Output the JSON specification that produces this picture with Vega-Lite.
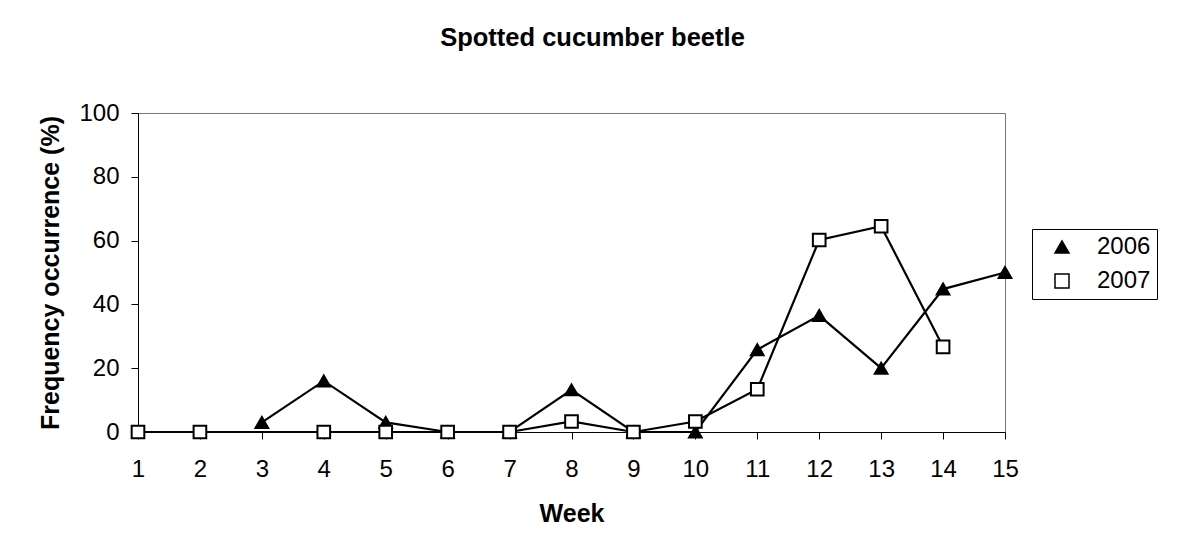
{
  "$schema": "https://vega.github.io/schema/vega-lite/v6.json",
  "width": 867,
  "height": 319,
  "autosize": {"type": "none"},
  "padding": {"left": 138, "top": 113, "right": 178, "bottom": 126},
  "background": "white",
  "config": {
    "font": "Liberation Sans",
    "view": {"stroke": "#777777", "strokeWidth": 1},
    "axis": {"grid": false, "domainColor": "black", "tickColor": "black", "labelColor": "black", "titleColor": "black", "domainWidth": 1, "tickWidth": 1}
  },
  "title": {"text": "Spotted cucumber beetle", "fontSize": 25.5, "fontWeight": "bold", "color": "black", "anchor": "middle", "dx": 21, "baseline": "alphabetic", "offset": 30},
  "data": {
    "values": [
      {"Week": 3, "Freq": 3, "Year": "2006"},
      {"Week": 4, "Freq": 16, "Year": "2006"},
      {"Week": 5, "Freq": 3, "Year": "2006"},
      {"Week": 6, "Freq": 0, "Year": "2006"},
      {"Week": 7, "Freq": 0, "Year": "2006"},
      {"Week": 8, "Freq": 13.2, "Year": "2006"},
      {"Week": 9, "Freq": 0, "Year": "2006"},
      {"Week": 10, "Freq": 0, "Year": "2006"},
      {"Week": 11, "Freq": 25.8, "Year": "2006"},
      {"Week": 12, "Freq": 36.5, "Year": "2006"},
      {"Week": 13, "Freq": 20, "Year": "2006"},
      {"Week": 14, "Freq": 44.8, "Year": "2006"},
      {"Week": 15, "Freq": 50, "Year": "2006"},
      {"Week": 1, "Freq": 0, "Year": "2007"},
      {"Week": 2, "Freq": 0, "Year": "2007"},
      {"Week": 4, "Freq": 0, "Year": "2007"},
      {"Week": 5, "Freq": 0, "Year": "2007"},
      {"Week": 6, "Freq": 0, "Year": "2007"},
      {"Week": 7, "Freq": 0, "Year": "2007"},
      {"Week": 8, "Freq": 3.3, "Year": "2007"},
      {"Week": 9, "Freq": 0, "Year": "2007"},
      {"Week": 10, "Freq": 3.3, "Year": "2007"},
      {"Week": 11, "Freq": 13.4, "Year": "2007"},
      {"Week": 12, "Freq": 60.2, "Year": "2007"},
      {"Week": 13, "Freq": 64.5, "Year": "2007"},
      {"Week": 14, "Freq": 26.7, "Year": "2007"}
    ]
  },
  "encoding": {
    "x": {
      "field": "Week", "type": "quantitative",
      "scale": {"domain": [1, 15], "nice": false, "zero": false},
      "axis": {"values": [1,2,3,4,5,6,7,8,9,10,11,12,13,14,15], "title": "Week", "titleFontSize": 25, "titleFontWeight": "bold", "labelFontSize": 24, "tickSize": 7, "labelPadding": 18, "titlePadding": 20, "labelFlush": false}
    },
    "y": {
      "field": "Freq", "type": "quantitative",
      "scale": {"domain": [0, 100], "nice": false},
      "axis": {"values": [0,20,40,60,80,100], "title": "Frequency occurrence (%)", "titleFontSize": 25, "titleFontWeight": "bold", "labelFontSize": 24, "tickSize": 7, "labelPadding": 12, "titlePadding": 15}
    }
  },
  "layer": [
    {
      "mark": {"type": "line", "color": "black", "strokeWidth": 2.2},
      "encoding": {"detail": {"field": "Year", "type": "nominal"}}
    },
    {
      "mark": {"type": "point", "filled": true, "opacity": 1, "stroke": "black", "strokeWidth": 2, "size": 160},
      "encoding": {
        "shape": {
          "field": "Year", "type": "nominal", "title": null,
          "scale": {"domain": ["2006", "2007"], "range": ["triangle-up", "square"]},
          "legend": {
            "orient": "none", "legendX": 894, "legendY": 116, "title": null,
            "strokeColor": "black", "fillColor": "white", "padding": 6,
            "labelFontSize": 24, "labelColor": "black", "labelOffset": 23,
            "symbolSize": 196, "symbolOffset": 12, "rowPadding": 10
          }
        },
        "fill": {
          "field": "Year", "type": "nominal", "title": null,
          "scale": {"domain": ["2006", "2007"], "range": ["black", "white"]}
        }
      }
    }
  ]
}
